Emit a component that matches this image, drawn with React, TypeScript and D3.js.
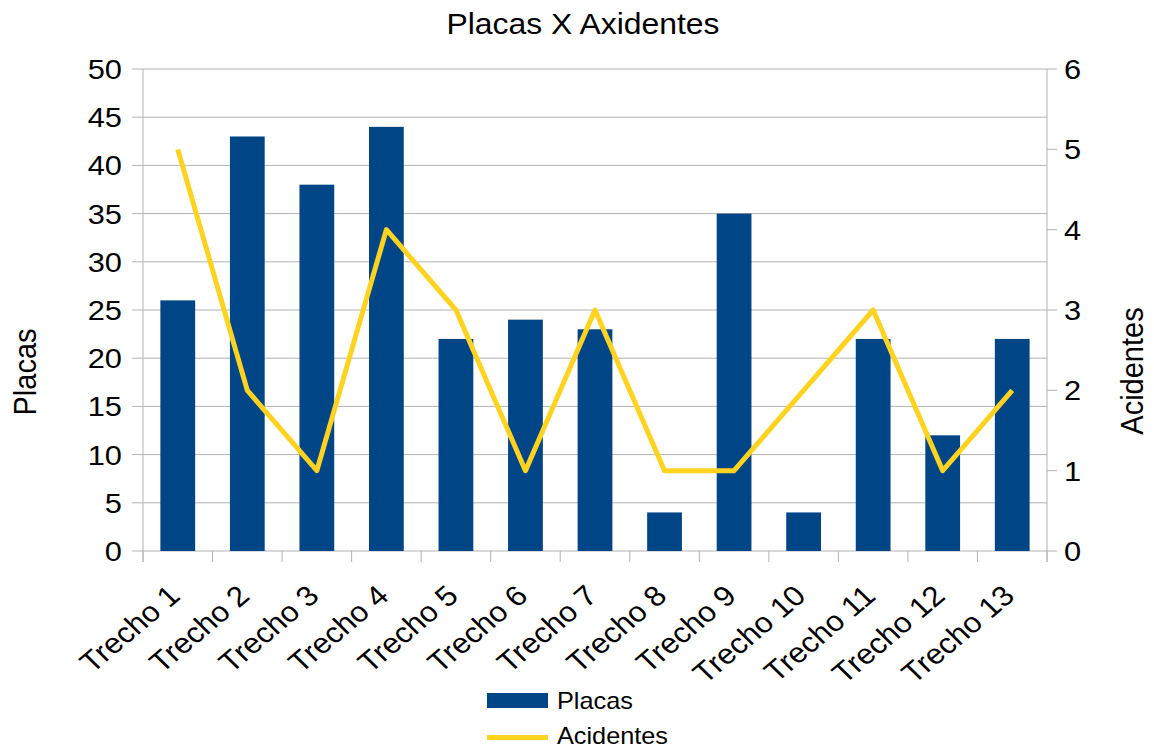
import React from "react";
import * as d3 from "d3";

const categories = [
  "Trecho 1", "Trecho 2", "Trecho 3", "Trecho 4", "Trecho 5", "Trecho 6", "Trecho 7",
  "Trecho 8", "Trecho 9", "Trecho 10", "Trecho 11", "Trecho 12", "Trecho 13",
];
const placas = [26, 43, 38, 44, 22, 24, 23, 4, 35, 4, 22, 12, 22];
const acidentes = [5, 2, 1, 4, 3, 1, 3, 1, 1, 2, 3, 1, 2];
const leftTicks = [0, 5, 10, 15, 20, 25, 30, 35, 40, 45, 50];
const rightTicks = [0, 1, 2, 3, 4, 5, 6];

const W = 1154;
const H = 749;
const left = 143;
const right = 1047;
const top = 69;
const bottom = 551;
const SX = 1.1; // horizontal text stretch
const FONT = "'Liberation Sans', Arial, sans-serif";
const BLUE = "#004586";
const YELLOW = "#ffd320";
const GRID = "#b3b3b3";

function T({ x, y, size, anchor = "start", rot = 0, children }: any) {
  return (
    <g transform={`translate(${x},${y}) scale(${SX},1)`}>
      <text
        transform={rot ? `rotate(${rot})` : undefined}
        fontSize={size}
        fontFamily={FONT}
        textAnchor={anchor}
        fill="#000"
      >
        {children}
      </text>
    </g>
  );
}

export default function App() {
  const x = d3
    .scaleBand<string>()
    .domain(categories)
    .range([left, right])
    .paddingInner(0.5)
    .paddingOuter(0.25);
  const step = x.step();
  const yL = d3.scaleLinear().domain([0, 50]).range([bottom, top]);
  const yR = d3.scaleLinear().domain([0, 6]).range([bottom, top]);

  const line = d3
    .line<number>()
    .x((_, i) => (x(categories[i]) as number) + x.bandwidth() / 2)
    .y((d) => yR(d));

  const boundaries = d3.range(categories.length + 1).map((i) => left + i * step);

  return (
    <svg
      width={W}
      height={H}
      style={{ position: "absolute", left: 0, top: 0, background: "#fff" }}
    >
      <rect width={W} height={H} fill="#fff" />
      {/* title */}
      <T x={583} y={34} size={29} anchor="middle">Placas X Axidentes</T>

      {/* gridlines + left ticks */}
      {leftTicks.map((t) => (
        <g key={"l" + t}>
          <line x1={left - 11} x2={right} y1={yL(t)} y2={yL(t)} stroke={GRID} strokeWidth={1} />
          <T x={122} y={yL(t) + 10} size={28} anchor="end">{t}</T>
        </g>
      ))}
      {/* left axis */}
      <line x1={left} x2={left} y1={top} y2={bottom + 11} stroke={GRID} strokeWidth={1} />
      {/* right axis */}
      <line x1={right} x2={right} y1={top} y2={bottom + 11} stroke={GRID} strokeWidth={1} />
      {rightTicks.map((t) => (
        <g key={"r" + t}>
          <line x1={right} x2={right + 10} y1={yR(t)} y2={yR(t)} stroke={GRID} strokeWidth={1} />
          <T x={1064} y={yR(t) + 10} size={28}>{t}</T>
        </g>
      ))}
      {/* category ticks */}
      {boundaries.map((b, i) => (
        <line key={"c" + i} x1={b} x2={b} y1={bottom} y2={bottom + 11} stroke={GRID} strokeWidth={1} />
      ))}

      {/* bars */}
      {placas.map((v, i) => (
        <rect
          key={"b" + i}
          x={x(categories[i])}
          y={yL(v)}
          width={x.bandwidth()}
          height={yL(0) - yL(v)}
          fill={BLUE}
        />
      ))}

      {/* line series */}
      <path d={line(acidentes) || ""} fill="none" stroke={YELLOW} strokeWidth={5} strokeLinejoin="round" />

      {/* category labels */}
      {categories.map((c) => (
        <T
          key={"t" + c}
          x={(x(c) as number) + x.bandwidth() / 2 + 4}
          y={bottom + 47}
          size={28.5}
          anchor="end"
          rot={-43}
        >
          {c}
        </T>
      ))}

      {/* axis titles */}
      <T x={36} y={372} size={29} anchor="middle" rot={-90}>Placas</T>
      <T x={1143} y={371} size={29} anchor="middle" rot={-90}>Acidentes</T>

      {/* legend */}
      <rect x={487} y={693} width={61} height={15} fill={BLUE} />
      <T x={557} y={709} size={23}>Placas</T>
      <line x1={487} x2={548} y1={737.5} y2={737.5} stroke={YELLOW} strokeWidth={5} />
      <T x={557} y={744} size={23}>Acidentes</T>
    </svg>
  );
}
